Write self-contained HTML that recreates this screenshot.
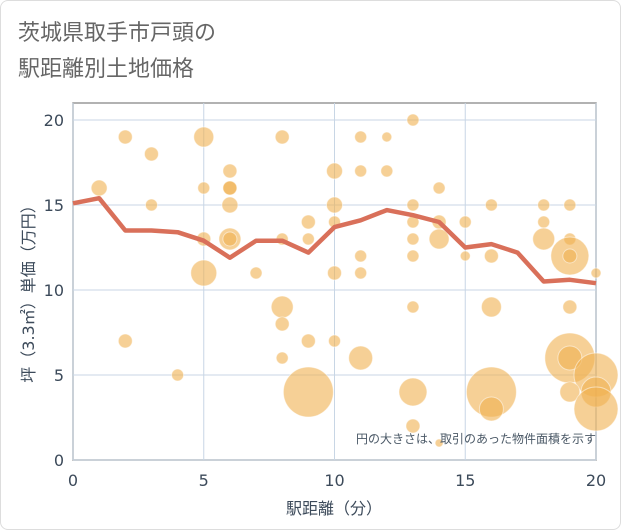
<!DOCTYPE html>
<html><head><meta charset="utf-8"><style>
body{margin:0;background:#fff;font-family:"Liberation Sans","Noto Sans CJK JP",sans-serif;}
.card{position:absolute;left:0;top:0;width:619px;height:528px;border:1px solid #ddd;border-radius:8px;}
</style></head><body>
<div class="card"></div>
<svg width="621" height="530" style="position:absolute;left:0;top:0" id="chart" font-family="DejaVu Sans, Noto Sans CJK JP, sans-serif">
<text x="18" y="40" font-size="22" fill="#666">茨城県取手市戸頭の</text>
<text x="18" y="76" font-size="22" fill="#666">駅距離別土地価格</text>
<g id="grid"></g><g id="bubbles"></g><g id="line"></g><g id="axes"></g>
<text x="596" y="443" font-size="12" fill="#4a5866" text-anchor="end">円の大きさは、取引のあった物件面積を示す</text>
<text x="334" y="514" font-size="16" fill="#3c4a5a" text-anchor="middle">駅距離（分）</text>
<text transform="translate(34,290) rotate(-90)" font-size="16" fill="#3c4a5a" text-anchor="middle">坪（3.3㎡）単価（万円）</text>
</svg>
<script>
const xTicks=[0,5,10,15,20];
const yTicks=[0,5,10,15,20];
const lineX=[0,1,2,3,4,5,6,7,8,9,10,11,12,13,14,15,16,17,18,19,20];
const lineY=[15.1,15.4,13.5,13.5,13.4,12.9,11.9,12.9,12.9,12.2,13.7,14.1,14.7,14.4,14.0,12.5,12.7,12.2,10.5,10.6,10.4];
const bubX=[2,3,5,8,6,1,5,6,6,3,6,9,5,6,6,8,9,5,7,8,8,2,9,8,4,9,10,10,10,10,10,11,12,13,11,12,14,13,16,18,19,13,14,15,18,13,14,18,19,19,19,11,13,15,16,11,20,13,16,19,11,19,19,20,13,16,16,19,20,20,13,14];
const bubY=[19,18,19,19,17,16,16,16,16,15,15,14,13,13,13,13,13,11,11,9,8,7,7,6,5,4,17,15,14,11,7,19,19,20,17,17,16,15,15,15,15,14,14,14,14,13,13,13,13,12,12,12,12,12,12,11,11,9,9,9,6,6,6,5,4,4,3,4,4,3,2,1];
const bubR=[7,7,10,7,7,8,6,7,7,6,8,7,7,11,7,6,6,13,6,11,7,7,7,6,6,25,8,8,6,7,6,6,5,6,6,6,6,6,6,6,6,6,7,6,6,6,10,11,6,19,7,6,6,5,7,6,5,6,10,7,12,25,12,22,14,25,12,10,15,22,7,4];
const X0=73,X1=596,Y0=460,Y1=120;
const sx=v=>X0+(X1-X0)*v/20, sy=v=>Y0-(Y0-Y1)*v/20;
const NS='http://www.w3.org/2000/svg';
function mk(t,a,p){const e=document.createElementNS(NS,t);for(const k in a)e.setAttribute(k,a[k]);p.appendChild(e);return e;}
const grid=document.getElementById('grid'),axes=document.getElementById('axes');
mk('rect',{x:X0,y:103,width:X1-X0,height:Y0-103,fill:'none',stroke:'#999','stroke-width':1.5},grid);
xTicks.forEach(t=>{const l=mk('line',{x1:sx(t),x2:sx(t),y1:103,y2:Y0,stroke:'#c8d6e5'},grid);

const tx=mk('text',{x:sx(t),y:486,'font-size':16,fill:'#3c4a5a','text-anchor':'middle'},axes);tx.textContent=t;
});
yTicks.forEach(t=>{const l=mk('line',{x1:X0,x2:X1,y1:sy(t),y2:sy(t),stroke:'#c8d6e5'},grid);

const tx=mk('text',{x:64,y:sy(t)+6,'font-size':16,fill:'#3c4a5a','text-anchor':'end'},axes);tx.textContent=t;
});
const bg=document.getElementById('bubbles');
bubX.forEach((x,i)=>{const c=mk('circle',{cx:sx(x),cy:sy(bubY[i]),r:bubR[i],fill:'rgba(240,176,80,0.6)',stroke:'rgba(255,255,255,0.5)'},bg);
});
const p=mk('polyline',{points:lineX.map((x,i)=>sx(x)+','+sy(lineY[i])).join(' '),fill:'none',stroke:'#d9705a','stroke-width':4.5,'stroke-linejoin':'round'},document.getElementById('line'));

</script>
</body></html>
